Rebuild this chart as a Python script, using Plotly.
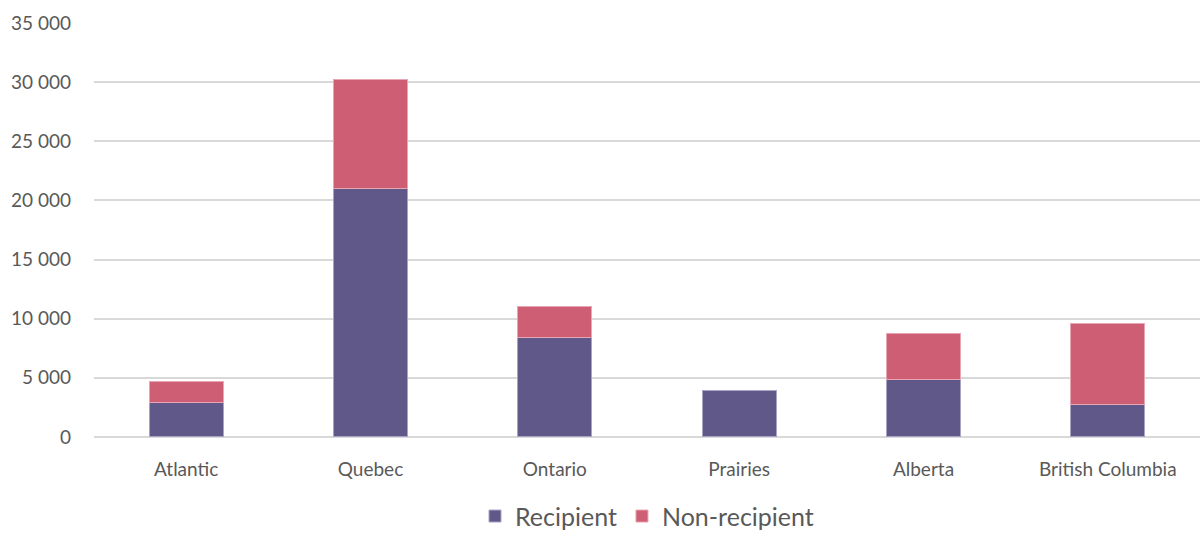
import plotly.graph_objects as go

regions = ["Atlantic", "Quebec", "Ontario", "Prairies", "Alberta", "British Columbia"]
recipient = [2900, 21000, 8400, 3900, 4850, 2780]
non_recipient = [1780, 9200, 2600, None, 3900, 6850]

fig = go.Figure()
fig.add_trace(go.Bar(x=regions, y=recipient, name="Recipient",
                     marker=dict(color="#5F5889", line=dict(color="#A9A3C6", width=1))))
fig.add_trace(go.Bar(x=regions, y=non_recipient, name="Non-recipient",
                     marker=dict(color="#CE5E74", line=dict(color="#E8A5B3", width=1))))

fig.update_layout(
    barmode="stack",
    bargap=0.6,
    width=1202, height=541,
    margin=dict(l=94, r=2, t=23, b=40),
    paper_bgcolor="white", plot_bgcolor="white",
    separators=". ",
    font=dict(family="Lato, Open Sans, sans-serif", color="#595959", size=19),
    xaxis=dict(showgrid=False, showline=False, ticks="", tickfont=dict(size=19),
               ticklabelstandoff=19),
    yaxis=dict(range=[0, 35000], dtick=5000, tickformat=",d", gridcolor="#D9D9D9",
               domain=[0.134, 1],
               gridwidth=1.5, zeroline=True, zerolinecolor="#D9D9D9", zerolinewidth=1.5,
               showline=False, ticks="", ticklabelstandoff=22,
               tickfont=dict(size=19)),
    legend=dict(orientation="h", x=0.5, xanchor="center", y=-0.032, yanchor="middle",
                font=dict(size=25), traceorder="normal"),
)
fig.write_html("out.html")
